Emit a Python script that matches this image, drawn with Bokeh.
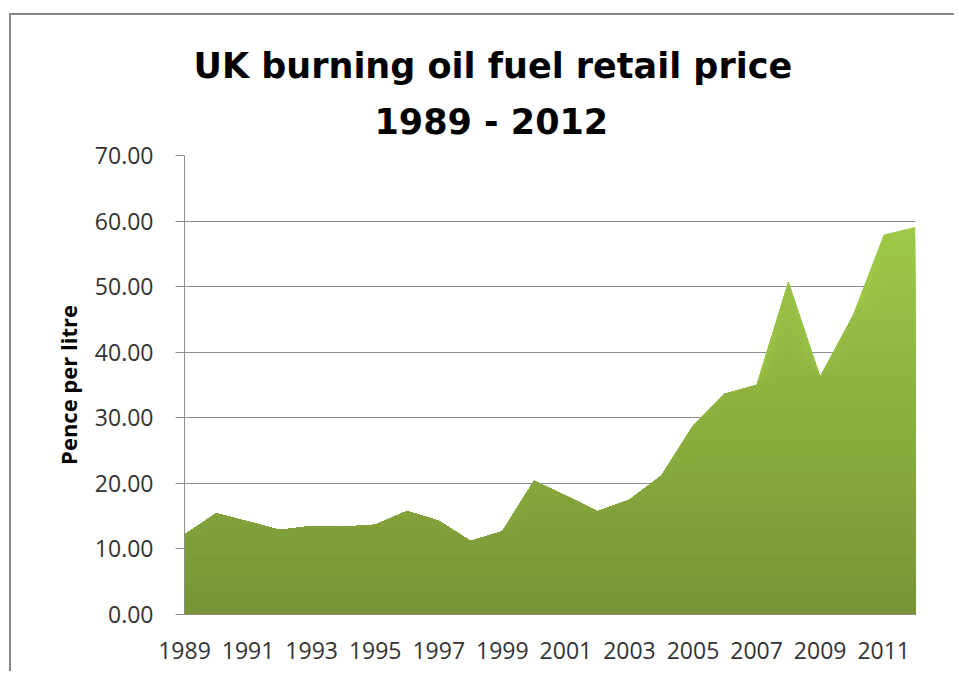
import numpy as np
from bokeh.plotting import figure
from bokeh.models import Range1d, FixedTicker, PrintfTickFormatter, Title
from bokeh.embed import file_html
from bokeh.resources import INLINE

# ---- data (pence per litre) ----
years = list(range(1989, 2013))
prices = [12.2, 15.45, 14.2, 12.9, 13.5, 13.4, 13.7, 15.8, 14.3, 11.2, 12.7, 20.4,
          18.1, 15.75, 17.5, 21.15, 28.8, 33.65, 35.0, 50.8, 36.3, 45.3, 57.95, 59.1]
x_ticks = list(range(1989, 2012, 2))
y_ticks = [0, 10, 20, 30, 40, 50, 60, 70]

title_line1 = "UK burning oil fuel retail price"
title_line2 = "1989 - 2012"
y_title = "Pence per litre"

FONT = "Open Sans"
TFONT = "DejaVu Sans"

p = figure(width=945, height=658, output_backend="svg", toolbar_location=None,
           x_range=Range1d(years[0], years[-1]), y_range=Range1d(0, 70),
           min_border_left=173, min_border_top=140, min_border_right=41,
           min_border_bottom=59)
p.margin = (13, 0, 0, 9)
p.styles = {"border-left": "2px solid #868686", "border-top": "2px solid #868686"}
p.outline_line_color = None
p.background_fill_color = "white"
p.border_fill_color = "white"

# gridlines
p.xgrid.grid_line_color = None
p.ygrid.grid_line_color = "#8e8e8e"
p.ygrid.grid_line_width = 1
p.ygrid.ticker = FixedTicker(ticks=y_ticks)

# gradient area: nested areas, lightest (full) first, darker lower slices on top
vals = np.array(prices)
x = np.array(years)
top = vals.max()
c_bot = np.array([0x76, 0x94, 0x36])
c_top = np.array([0x9f, 0xc9, 0x48])
nb = 40
edges = np.linspace(0, top, nb + 1)
for k in range(nb - 1, -1, -1):
    hi = edges[k + 1]
    t = (k + 0.5) / nb
    c = (c_bot + (c_top - c_bot) * t).round().astype(int)
    col = "#%02x%02x%02x" % tuple(c)
    p.varea(x=x, y1=np.zeros_like(vals), y2=np.minimum(vals, hi),
            fill_color=col, fill_alpha=1.0)

# axes
p.yaxis.ticker = FixedTicker(ticks=y_ticks)
p.yaxis.formatter = PrintfTickFormatter(format="%.2f")
p.yaxis.major_tick_out = 9
p.yaxis.major_tick_in = 0
p.yaxis.minor_tick_line_color = None
p.yaxis.axis_line_color = "#8e8e8e"
p.yaxis.major_tick_line_color = "#8e8e8e"
p.yaxis.major_label_standoff = 22
p.yaxis.major_label_text_font = FONT
p.yaxis.major_label_text_font_size = "23px"
p.yaxis.major_label_text_color = "#333333"
p.yaxis.axis_label = y_title
p.yaxis.axis_label_text_font = FONT
p.yaxis.axis_label_text_font_style = "bold"
p.yaxis.axis_label_text_font_size = "22px"
p.yaxis.axis_label_text_color = "#000000"
p.yaxis.axis_label_standoff = 9

p.xaxis.ticker = FixedTicker(ticks=x_ticks)
p.xaxis.major_tick_out = 0
p.xaxis.major_tick_in = 0
p.xaxis.minor_tick_line_color = None
p.xaxis.axis_line_color = "#8e8e8e"
p.xaxis.major_label_standoff = 27
p.xaxis.major_label_text_font = FONT
p.xaxis.major_label_text_font_size = "23px"
p.xaxis.major_label_text_color = "#333333"

# title (two lines; first added sits nearest the plot)
p.add_layout(Title(text=title_line2, align="left", offset=190, standoff=28,
                   text_font=TFONT, text_font_style="bold", text_font_size="35px",
                   text_color="#000000"), "above")
p.add_layout(Title(text=title_line1, align="left", offset=9, standoff=0,
                   text_font=TFONT, text_font_style="bold", text_font_size="35px",
                   text_color="#000000"), "above")

open("out.html", "w").write(file_html(p, INLINE))
